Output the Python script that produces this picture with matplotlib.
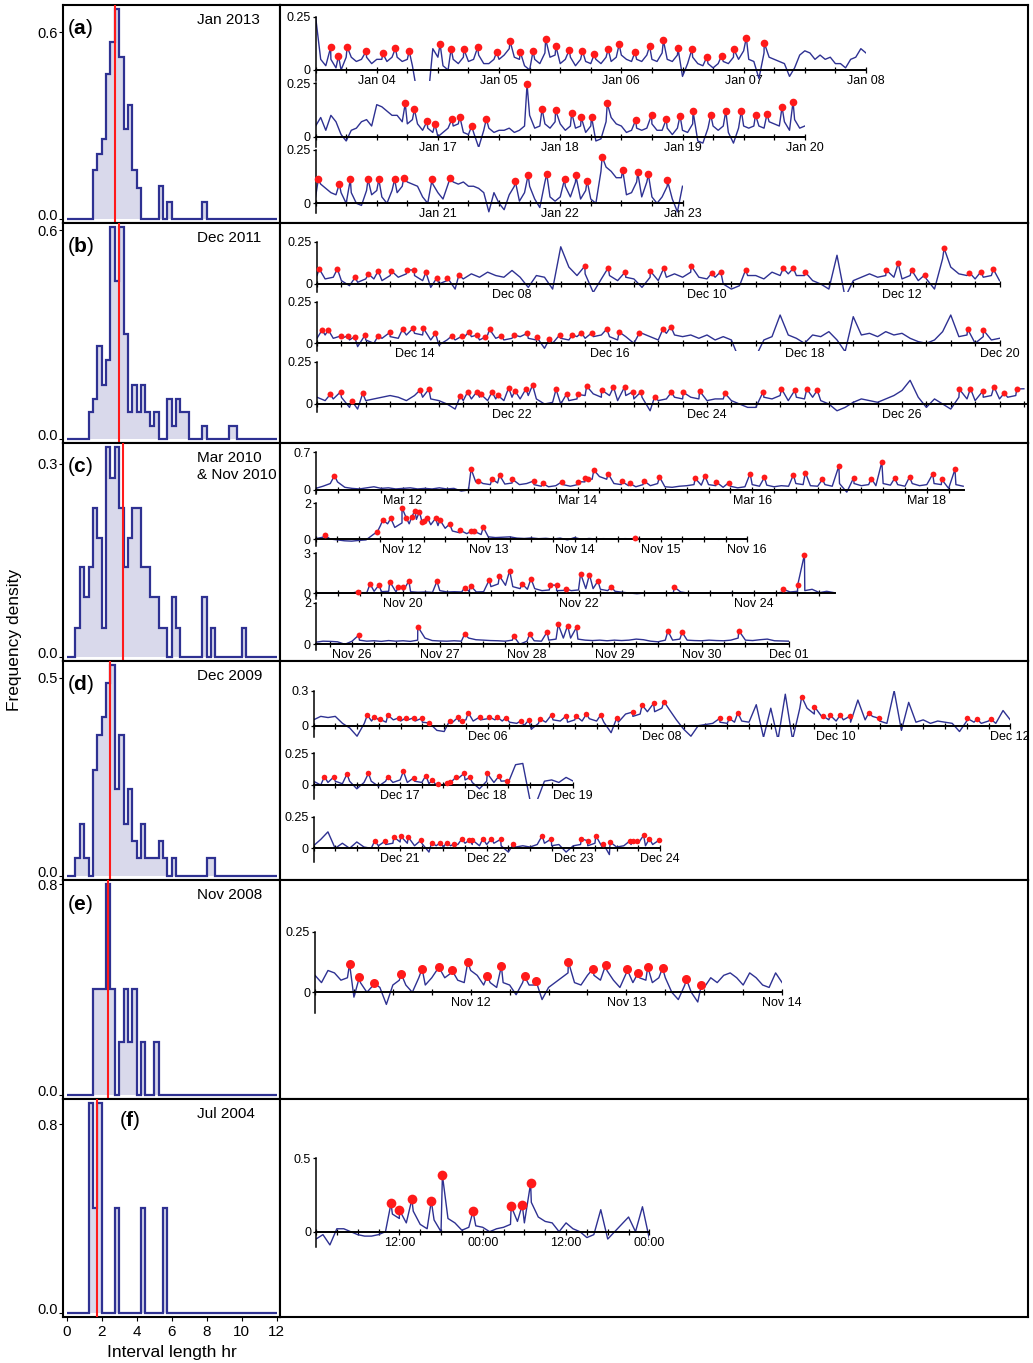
import numpy as np
import matplotlib
matplotlib.use('Agg')
import matplotlib.pyplot as plt
from matplotlib.transforms import ScaledTranslation

plt.rcParams['font.family'] = ['Liberation Sans', 'DejaVu Sans']
plt.rcParams['mathtext.fontset'] = 'custom'
plt.rcParams['mathtext.rm'] = 'Liberation Sans'
plt.rcParams['mathtext.bf'] = 'Liberation Sans:bold'

NAVY = '#2e3192'
FILL = '#d9d9eb'
RED = '#ff1a1a'

# ---------------- histograms (bin width 0.25 hr) ----------------
bin_w = 0.25
hist_letters = ['a', 'b', 'c', 'd', 'e', 'f']
hist_titles = ['Jan 2013', 'Dec 2011', 'Mar 2010\n& Nov 2010', 'Dec 2009', 'Nov 2008', 'Jul 2004']
hist_start = [1.5, 1.25, 0.5, 0.5, 1.5, 1.25]
hist_a = [0.158, 0.208, 0.258, 0.467, 0.570, 0.674, 0.52, 0.29, 0.365, 0.158, 0.10,
          0, 0, 0, 0, 0.104, 0, 0.055, 0, 0, 0, 0, 0, 0, 0, 0.055]
hist_b = [0.077, 0.115, 0.266, 0.154, 0.228, 0.609, 0.454, 0.609, 0.303, 0.077, 0.154,
          0.077, 0.154, 0.077, 0.038, 0.077, 0, 0, 0.115, 0.038, 0.115, 0.077, 0.077,
          0, 0, 0, 0.038, 0, 0, 0, 0, 0, 0.038, 0.038]
hist_c = [0.0445, 0.139, 0.093, 0.139, 0.232, 0.184, 0.0445, 0.326, 0.278, 0.326, 0.232,
          0.139, 0.184, 0.232, 0.232, 0.139, 0.139, 0.093, 0.093, 0.0445, 0.0445, 0,
          0.093, 0.0445, 0, 0, 0, 0, 0, 0.093, 0, 0.0445, 0, 0, 0, 0, 0, 0, 0.0445]
hist_d = [0.045, 0.131, 0.045, 0, 0.267, 0.356, 0.40, 0.487, 0.532, 0.22, 0.356, 0.131,
          0.22, 0.089, 0.045, 0.131, 0.045, 0.045, 0.045, 0.089, 0.045, 0, 0.045,
          0, 0, 0, 0, 0, 0, 0, 0.045, 0.045]
hist_e = [0.4, 0.4, 0.4, 0.8, 0.4, 0, 0.2, 0.4, 0.2, 0.4, 0, 0.2, 0, 0, 0.2]
hist_f = [0.889, 0.444, 0.889, 0, 0, 0, 0.444, 0, 0, 0, 0, 0, 0.444, 0, 0, 0, 0, 0.444]
hist_heights = [hist_a, hist_b, hist_c, hist_d, hist_e, hist_f]
medians = [2.76, 2.99, 3.24, 2.5, 2.38, 1.71]
hist_yticks = [0.6, 0.6, 0.3, 0.5, 0.8, 0.8]

# ---------------- time series strips ----------------
# (a) Jan 2013, hourly values
a1_v = [0.25, 0.05, 0.02, 0.05, 0.01, 0.0, 0.06, 0.06, 0.04, 0.05,
        0.06, 0.03, 0.05, 0.05, 0.04, 0.06, 0.06, 0.04, 0.05, 0.02,
        -0.12, -0.15, -0.15, 0.1, 0.06, 0.02, 0.0, 0.05, 0.03, 0.06,
        0.04, 0.05, 0.07, 0.03, 0.03, 0.05, 0.05, 0.07, 0.1, 0.06,
        0.05, 0.02, 0.0, 0.05, 0.03, 0.08, 0.06, 0.07, 0.03, 0.05,
        0.06, 0.02, 0.05, 0.04, 0.03, 0.05, 0.03, 0.06, 0.04, 0.06,
        0.07, 0.05, 0.04, 0.05, 0.04, 0.07, 0.05, 0.04, 0.08, 0.05,
        0.04, 0.07, -0.03, 0.03, 0.06, 0.03, 0.02, 0.03, 0.01, 0.03,
        0.04, 0.03, 0.06, 0.05, 0.09, 0.05, 0.04, -0.04, 0.08, 0.06,
        0.05, 0.04, 0.03, -0.03, 0.01, 0.07, 0.09, 0.08, 0.05, 0.07,
        0.05, 0.06, 0.03, 0.03, 0.01, 0.05, 0.06, 0.1, 0.08]
a1_pk_t = [3.623, 3.687, 3.758, 3.914, 4.049, 4.153, 4.265, 4.518, 4.608, 4.712, 4.825,
           4.980, 5.090, 5.174, 5.278, 5.381, 5.465, 5.574, 5.682, 5.778, 5.892, 5.982,
           6.111, 6.231, 6.344, 6.463, 6.577, 6.700, 6.819, 6.919, 7.022, 7.168]
a1_pk_v = [0.106, 0.066, 0.109, 0.089, 0.078, 0.102, 0.089, 0.122, 0.1, 0.098, 0.106,
           0.083, 0.136, 0.084, 0.089, 0.145, 0.112, 0.094, 0.089, 0.073, 0.098, 0.12,
           0.083, 0.112, 0.139, 0.102, 0.097, 0.062, 0.066, 0.098, 0.152, 0.128]

a2_v = [0.05, 0.09, 0.03, 0.1, 0.07, 0.01, -0.02, 0.03, 0.04, 0.07,
        0.08, 0.05, 0.15, 0.14, 0.12, 0.1, 0.1, 0.07, 0.06, 0.08,
        0.06, 0.03, 0.04, 0.02, 0.0, 0.02, 0.04, 0.05, 0.06, 0.02,
        0.01, 0.02, -0.05, 0.03, 0.04, 0.02, 0.03, 0.03, 0.04, 0.02,
        0.03, 0.05, 0.1, 0.04, 0.05, 0.06, 0.04, 0.07, 0.06, 0.03,
        0.05, 0.04, 0.05, 0.02, 0.05, -0.02, -0.01, 0.07, 0.09, 0.06,
        0.05, 0.02, 0.03, 0.04, 0.03, 0.04, 0.06, 0.03, 0.03, 0.04,
        0.01, 0.04, 0.03, 0.02, 0.06, -0.02, -0.03, 0.04, 0.05, 0.03,
        0.05, 0.02, -0.03, 0.04, 0.05, 0.04, 0.05, 0.05, 0.04, 0.07,
        0.06, 0.05, 0.07, 0.03, 0.08, 0.04, 0.05]
a2_pk_t = [16.733, 16.808, 16.911, 16.976, 17.115, 17.179, 17.276, 17.396, 17.729, 17.852,
           17.962, 18.094, 18.172, 18.256, 18.385, 18.617, 18.747, 18.867, 18.980, 19.086,
           19.231, 19.354, 19.481, 19.597, 19.691, 19.814, 19.904]
a2_pk_v = [0.156, 0.128, 0.072, 0.058, 0.083, 0.094, 0.05, 0.083, 0.245, 0.13,
           0.125, 0.112, 0.09, 0.094, 0.156, 0.078, 0.102, 0.081, 0.098, 0.12,
           0.102, 0.12, 0.122, 0.102, 0.106, 0.139, 0.164]

a3_v = [0.03, 0.09, 0.07, 0.05, 0.04, 0.05, 0.0, 0.05, 0.0, -0.01,
        0.06, 0.04, 0.06, 0.03, 0.0, 0.06, 0.05, 0.08, 0.1, 0.09,
        0.08, 0.03, 0.0, 0.09, 0.05, 0.02, 0.09, 0.1, 0.09, 0.1,
        0.08, 0.08, 0.07, 0.05, -0.04, 0.05, 0.0, -0.03, 0.04, 0.08,
        0.01, 0.05, 0.08, 0.02, -0.02, 0.1, 0.03, 0.01, 0.03, 0.08,
        0.03, 0.1, 0.02, 0.06, 0.02, 0.0, 0.15, 0.17, 0.15, 0.12,
        0.12, 0.04, 0.05, 0.1, 0.03, 0.1, 0.03, 0.0, 0.03, 0.08,
        0.02, -0.04, 0.08]
a3_pk_t = [20.022, 20.194, 20.284, 20.429, 20.517, 20.646, 20.72, 20.953, 21.099, 21.632,
           21.738, 21.890, 22.036, 22.127, 22.220, 22.343, 22.511, 22.634, 22.721, 22.876]
a3_pk_v = [0.112, 0.091, 0.112, 0.112, 0.112, 0.112, 0.117, 0.114, 0.117, 0.106,
           0.133, 0.137, 0.114, 0.133, 0.106, 0.219, 0.156, 0.145, 0.136, 0.109]

# (b) Dec 2011, 2-hourly values
b1_v = [0.05, 0.03, 0.04, 0.02, -0.01, 0.01, 0.03, 0.03, 0.02, 0.05,
        0.04, 0.06, 0.05, 0.02, -0.02, 0.0, 0.02, -0.03, 0.03, 0.06,
        0.04, 0.07, 0.05, 0.04, 0.08, 0.04, -0.02, 0.05, 0.04, -0.03,
        0.22, 0.1, 0.05, 0.06, -0.05, 0.03, 0.05, 0.02, 0.04, 0.03,
        -0.02, 0.04, 0.02, 0.04, 0.06, 0.04, 0.07, 0.04, 0.03, 0.04,
        0.0, -0.03, -0.01, 0.05, 0.05, 0.03, 0.07, 0.05, 0.06, 0.05,
        0.05, 0.02, 0.0, -0.03, 0.17, -0.08, 0.02, 0.04, 0.06, 0.04,
        0.05, 0.04, 0.03, 0.05, 0.02, 0.03, -0.03, 0.15, 0.1, 0.06,
        0.05, 0.03, 0.04, 0.05, 0.02]
b1_pk_t = [6.023, 6.209, 6.391, 6.528, 6.627, 6.764, 6.921, 6.999, 7.117, 7.230, 7.338,
           7.455, 8.747, 8.987, 9.164, 9.418, 9.556, 9.836, 10.047, 10.141, 10.396,
           10.783, 10.886, 11.009, 11.838, 11.961, 12.098, 12.231, 12.432, 12.692,
           12.810, 12.937]
b1_pk_v = [0.089, 0.089, 0.039, 0.059, 0.077, 0.077, 0.083, 0.083, 0.069, 0.037, 0.037,
           0.053, 0.106, 0.096, 0.073, 0.077, 0.093, 0.108, 0.063, 0.073, 0.083,
           0.093, 0.093, 0.069, 0.083, 0.122, 0.083, 0.053, 0.211, 0.067,
           0.073, 0.087]

b2_v = [0.03, 0.05, 0.03, 0.03, 0.02, -0.02, 0.02, 0.0, 0.03, 0.04,
        0.03, 0.05, 0.06, 0.05, 0.02, -0.01, 0.02, 0.02, 0.03, 0.04,
        0.02, 0.05, 0.03, 0.02, 0.03, 0.04, 0.03, 0.02, -0.03, 0.0,
        0.03, 0.02, 0.04, 0.03, 0.04, 0.05, 0.04, 0.02, 0.04, 0.0,
        0.06, 0.04, 0.02, 0.06, 0.05, 0.04, 0.05, 0.03, 0.05, 0.02,
        0.04, 0.02, -0.1, np.nan, -0.08, 0.02, 0.04, 0.17, 0.05, 0.03,
        0.0, 0.05, 0.04, 0.07, 0.02, -0.05, 0.16, 0.05, 0.06, 0.04,
        0.07, 0.05, 0.06, 0.03, 0.01, 0.0, 0.02, 0.07, 0.17, 0.04,
        0.05, 0.0, 0.04, 0.02, 0.03]
b2_pk_t = [13.052, 13.116, 13.244, 13.313, 13.386, 13.494, 13.627, 13.749, 13.877, 13.985,
           14.092, 14.215, 14.383, 14.490, 14.559, 14.642, 14.721, 14.770, 14.892, 15.021,
           15.158, 15.255, 15.384, 15.491, 15.618, 15.712, 15.821, 15.972, 16.099, 16.306,
           16.547, 16.630, 19.673, 19.834]
b2_pk_v = [0.08, 0.08, 0.044, 0.044, 0.04, 0.05, 0.044, 0.066, 0.084, 0.09,
           0.09, 0.06, 0.044, 0.044, 0.07, 0.05, 0.036, 0.084, 0.044, 0.05,
           0.06, 0.036, 0.026, 0.052, 0.05, 0.064, 0.064, 0.086, 0.068, 0.06,
           0.084, 0.1, 0.086, 0.08]

b3_v = [0.04, 0.02, 0.03, 0.04, -0.02, -0.03, 0.02, 0.03, 0.04, 0.05,
        0.04, 0.02, 0.05, 0.04, 0.03, 0.02, 0.0, -0.03, 0.02, 0.03,
        0.04, 0.02, 0.03, 0.02, 0.04, 0.03, 0.05, 0.03, 0.0, 0.01,
        0.0, 0.02, 0.03, 0.05, 0.06, 0.04, 0.05, 0.02, 0.05, 0.03,
        0.04, -0.04, 0.02, 0.03, 0.04, 0.03, 0.04, 0.03, 0.02, 0.03,
        0.03, 0.02, 0.0, -0.02, -0.02, 0.04, 0.03, 0.05, 0.02, 0.04,
        0.03, 0.04, 0.02, 0.0, -0.04, -0.02, 0.01, 0.03, 0.02, 0.01,
        0.03, 0.05, 0.08, 0.14, 0.04, -0.02, 0.03, 0.0, -0.03, 0.04,
        0.03, 0.02, 0.04, 0.05, 0.03, 0.04, 0.05, 0.09]
b3_pk_t = [20.136, 20.244, 20.357, 20.469, 21.058, 21.147, 21.471, 21.545, 21.638, 21.682,
           21.795, 21.853, 21.966, 22.030, 22.143, 22.211, 22.452, 22.560, 22.673, 22.766,
           22.918, 23.041, 23.154, 23.242, 23.325, 23.463, 23.635, 23.757, 23.924, 24.185,
           24.577, 24.763, 24.901, 25.024, 25.131, 26.589, 26.702, 26.830, 26.943, 27.050,
           27.177]
b3_pk_v = [0.057, 0.073, 0.018, 0.063, 0.083, 0.087, 0.049, 0.071, 0.071, 0.057,
           0.071, 0.053, 0.096, 0.079, 0.089, 0.112, 0.087, 0.059, 0.057, 0.106,
           0.083, 0.1, 0.1, 0.073, 0.073, 0.043, 0.069, 0.069, 0.077, 0.063,
           0.073, 0.091, 0.081, 0.089, 0.081, 0.087, 0.091, 0.077, 0.102, 0.065,
           0.089]

# (c) Mar 2010 & Nov 2010, 2-hourly values
c1_v = [0.03, 0.07, 0.12, 0.15, 0.05, 0.03, 0.02, 0.04, 0.06, 0.03,
        0.04, 0.02, 0.03, 0.04, 0.02, 0.03, 0.02, 0.04, 0.02, 0.03,
        -0.02, 0.0, 0.15, 0.12, 0.1, 0.13, 0.11, 0.13, 0.1, 0.12,
        0.1, 0.07, 0.06, 0.08, 0.1, 0.07, 0.1, 0.15, 0.2, 0.25,
        0.2, 0.12, 0.1, 0.08, 0.06, 0.1, 0.08, 0.12, 0.06, 0.05,
        0.07, 0.08, 0.1, 0.09, 0.1, 0.08, 0.05, 0.07, 0.04, 0.06,
        0.1, 0.07, 0.09, 0.06, 0.08, 0.07, 0.12, 0.1, 0.08, 0.07,
        0.1, 0.07, 0.12, -0.04, 0.12, 0.08, 0.1, 0.08, 0.12, 0.09,
        0.1, 0.07, 0.12, 0.08, 0.1, 0.12, 0.1, 0.03, 0.1, 0.07]
c1_pk_t = [11.215, 12.780, 12.861, 13.021, 13.107, 13.250, 13.496, 13.598, 13.823, 14.007,
           14.084, 14.119, 14.186, 14.349, 14.503, 14.596, 14.758, 14.938, 15.347, 15.459,
           15.588, 15.731, 15.976, 16.140, 16.472, 16.609, 16.804, 16.993, 17.163, 17.366,
           17.485, 17.632, 17.802, 18.068, 18.170, 18.323]
c1_pk_v = [0.266, 0.39, 0.173, 0.204, 0.273, 0.204, 0.167, 0.124, 0.155, 0.155,
           0.217, 0.204, 0.372, 0.304, 0.161, 0.124, 0.173, 0.242, 0.217, 0.26,
           0.149, 0.136, 0.304, 0.235, 0.279, 0.322, 0.198, 0.446, 0.229, 0.211,
           0.52, 0.217, 0.242, 0.297, 0.198, 0.384]

c2_v = [0.02, 0.1, 0.0, -0.05, -0.1, -0.12, -0.08, -0.05, 0.25, 0.75,
        0.85, 0.65, 0.9, 0.85, 1.1, 0.9, 0.8, 0.75, 0.6, 0.45,
        0.35, 0.3, 0.3, 0.25, 0.12, 0.08, 0.1, 0.12, 0.05, 0.03,
        0.06, 0.02, 0.04, 0.0, 0.05, -0.05, 0.08, -0.02, 0.03, 0.0,
        0.02, 0.01, 0.0, 0.02, 0.01, 0.02, 0.0, -0.02, 0.0, 0.01,
        -0.01, 0.0, -0.02, 0.0, -0.01, 0.0, -0.02, -0.01, 0.0, -0.02,
        -0.01]
c2_pk_t = [11.103, 11.715, 11.777, 11.870, 12.0, 12.051, 12.114, 12.150, 12.202, 12.233,
           12.254, 12.295, 12.389, 12.440, 12.553, 12.668, 12.803, 12.839, 12.942, 14.703]
c2_pk_v = [0.224, 0.411, 1.065, 1.159, 1.757, 1.159, 1.252, 1.589, 1.533, 0.935,
           1.009, 1.196, 1.159, 1.065, 0.841, 0.505, 0.43, 0.43, 0.654, 0.06]

c3_v = [0.0, 0.02, 0.0, 0.03, 0.0, 0.02, 0.05, 0.05, 0.15, 0.12,
        0.15, 0.1, 0.2, 0.12, 0.08, 0.1, 0.07, 0.2, 0.1, 0.12,
        0.1, 0.15, 0.1, 0.12, 0.5, 0.7, 0.6, 0.5, 0.35, 0.3,
        0.35, 0.2, 0.25, 0.2, 0.22, 0.2, 0.25, 0.35, 0.35, 0.3,
        0.2, 0.15, 0.08, 0.02, -0.03, 0.02, 0.0, 0.03, 0.0, 0.05,
        0.1, 0.02, 0.04, 0.0, 0.05, 0.02, 0.0, 0.06, 0.0, 0.03,
        0.05, 0.01, 0.03, 0.0, 0.1, 0.1, 0.15, 0.2, 0.3, 0.05,
        0.15, 0.05]
c3_pk_t = [19.483, 19.621, 19.723, 19.845, 19.942, 19.998, 20.064, 20.384, 20.700, 20.772,
           20.981, 21.097, 21.214, 21.357, 21.458, 21.677, 21.749, 21.861, 22.024, 22.125,
           22.222, 22.375, 23.092, 24.335, 24.503, 24.579]
c3_pk_v = [0.125, 0.7, 0.625, 0.875, 0.45, 0.475, 0.925, 0.9, 0.425, 0.55,
           1.0, 1.3, 1.7, 0.7, 1.1, 0.625, 0.6, 0.325, 1.475, 1.4,
           0.925, 0.475, 0.475, 0.3, 0.65, 2.9]

c4_v = [0.1, 0.15, 0.14, 0.12, 0.0, 0.15, 0.2, 0.15, 0.17, 0.14,
        0.18, 0.15, 0.17, 0.14, 0.2, 0.3, 0.18, 0.16, 0.15, 0.17,
        0.15, 0.3, 0.22, 0.2, 0.18, 0.17, 0.15, 0.2, 0.0, 0.15,
        0.17, 0.15, 0.2, 0.25, 0.3, 0.3, 0.25, 0.2, 0.18, 0.2,
        0.17, 0.2, 0.18, 0.2, 0.25, 0.22, 0.15, 0.12, 0.2, 0.2,
        0.25, 0.2, 0.18, 0.17, 0.2, 0.18, 0.17, 0.2, 0.3, 0.2,
        0.18, 0.22, 0.25, 0.17, 0.16, 0.15]
c4_pk_t = [26.077, 26.751, 27.286, 27.847, 28.031, 28.230, 28.358, 28.465, 28.567, 29.613,
           29.776, 30.424]
c4_pk_v = [0.448, 0.848, 0.48, 0.4, 0.48, 0.59, 0.96, 0.9, 0.816, 0.64, 0.576, 0.656]

# (d) Dec 2009, 2-hourly values
d1_v = [0.05, 0.08, 0.07, 0.08, 0.02, -0.02, -0.09, 0.02, 0.04, 0.05,
        0.03, 0.05, 0.04, 0.05, 0.04, 0.03, 0.02, -0.04, -0.05, 0.02,
        0.04, 0.05, 0.04, 0.05, 0.06, 0.05, 0.04, 0.03, 0.02, 0.0,
        -0.03, 0.02, 0.03, 0.05, 0.04, 0.03, 0.05, 0.04, 0.06, 0.04,
        0.03, -0.06, 0.03, 0.1, 0.08, 0.1, 0.12, 0.12, 0.15, 0.14,
        0.05, -0.03, -0.09, 0.0, 0.01, 0.02, 0.03, 0.02, 0.03, 0.04,
        0.03, 0.18, -0.1, 0.15, -0.12, 0.27, -0.12, 0.15, 0.15, 0.1,
        0.08, 0.05, 0.04, 0.05, 0.03, 0.22, 0.05, 0.08, 0.04, 0.02,
        0.3, -0.04, 0.2, 0.03, 0.05, 0.02, 0.04, 0.03, 0.02, -0.05,
        0.04, 0.03, 0.02, 0.04, 0.02, 0.13, 0.05]
d1_pk_t = [4.618, 4.699, 4.766, 4.853, 4.984, 5.066, 5.153, 5.241, 5.329, 5.563, 5.662,
           5.701, 5.777, 5.914, 6.013, 6.111, 6.209, 6.384, 6.472, 6.598, 6.734, 6.904,
           7.013, 7.134, 7.297, 7.483, 7.664, 7.773, 7.904, 8.024, 8.664, 8.774, 8.872,
           9.605, 9.752, 9.851, 9.933, 10.048, 10.162, 10.376, 10.496, 11.507, 11.617,
           11.776]
d1_pk_v = [0.091, 0.077, 0.054, 0.091, 0.069, 0.069, 0.069, 0.063, 0.023, 0.043, 0.074,
           0.043, 0.111, 0.077, 0.077, 0.074, 0.069, 0.043, 0.049, 0.06, 0.094, 0.086,
           0.083, 0.1, 0.091, 0.069, 0.117, 0.177, 0.191, 0.206, 0.063, 0.063, 0.111,
           0.249, 0.163, 0.083, 0.089, 0.091, 0.083, 0.111, 0.063, 0.063, 0.057,
           0.057]

d2_v = [0.03, 0.0, 0.02, 0.03, 0.01, 0.03, -0.03, 0.02, 0.03, -0.01,
        0.03, 0.02, 0.04, 0.02, 0.03, 0.02, 0.01, 0.0, 0.0, 0.02,
        0.05, 0.04, 0.02, -0.03, 0.03, 0.02, 0.03, 0.02, 0.16, 0.17,
        -0.12, -0.12, 0.03, 0.04, 0.02, 0.06, 0.03]
d2_pk_t = [16.127, 16.238, 16.387, 16.635, 16.857, 17.038, 17.160, 17.298, 17.371, 17.436,
           17.536, 17.575, 17.647, 17.740, 17.807, 18.006, 18.143, 18.238]
d2_pk_v = [0.066, 0.066, 0.087, 0.092, 0.066, 0.108, 0.058, 0.074, 0.039, 0.008,
           0.018, 0.021, 0.063, 0.092, 0.06, 0.092, 0.071, 0.034]

d3_v = [0.02, 0.07, 0.13, 0.0, 0.04, 0.0, 0.05, 0.01, 0.0, 0.02,
        0.03, 0.04, 0.05, 0.04, 0.02, 0.04, -0.03, 0.02, 0.01, 0.02,
        0.03, 0.04, 0.03, 0.02, 0.03, 0.04, 0.02, -0.03, 0.01, 0.02,
        0.01, 0.03, 0.04, 0.02, 0.03, -0.03, 0.02, 0.03, 0.02, 0.04,
        0.01, -0.05, 0.01, 0.02, 0.03, 0.04, 0.02, 0.03, 0.06]
d3_pk_t = [20.707, 20.829, 20.928, 21.006, 21.094, 21.243, 21.365, 21.464, 21.536, 21.619,
           21.713, 21.801, 21.834, 21.956, 22.055, 22.161, 22.309, 22.641, 22.746, 23.094,
           23.166, 23.260, 23.348, 23.425, 23.652, 23.685, 23.740, 23.812, 23.879, 23.994]
d3_pk_v = [0.058, 0.058, 0.089, 0.097, 0.089, 0.066, 0.045, 0.045, 0.045, 0.034,
           0.074, 0.066, 0.066, 0.076, 0.076, 0.071, 0.034, 0.1, 0.074, 0.074,
           0.06, 0.1, 0.034, 0.05, 0.058, 0.058, 0.058, 0.103, 0.076, 0.066]

# (e) Nov 2008, hourly values
e1_v = [0.07, 0.04, 0.09, 0.08, 0.05, 0.06, -0.02, 0.04, 0.0, 0.03,
        0.02, -0.05, 0.03, 0.05, 0.03, 0.0, 0.06, 0.03, 0.06, 0.1,
        0.06, 0.08, 0.05, 0.04, 0.09, 0.07, 0.03, 0.04, 0.02, 0.04,
        0.03, -0.01, 0.04, 0.03, 0.03, -0.03, 0.02, 0.04, 0.06, 0.08,
        0.04, 0.03, 0.07, 0.07, 0.05, 0.09, 0.05, 0.02, 0.08, 0.04,
        0.06, 0.05, 0.04, 0.06, 0.06, 0.0, -0.03, 0.03, 0.0, -0.04,
        0.02, 0.06, 0.04, 0.07, 0.08, 0.06, 0.03, 0.08, 0.06, 0.03,
        0.02, 0.08, 0.04]
e1_pk_t = [11.222, 11.285, 11.377, 11.553, 11.688, 11.794, 11.877, 11.981, 12.107, 12.197,
           12.346, 12.420, 12.627, 12.785, 12.866, 13.002, 13.074, 13.137, 13.232, 13.385,
           13.482]
e1_pk_v = [0.117, 0.062, 0.039, 0.077, 0.097, 0.105, 0.094, 0.124, 0.068, 0.108,
           0.066, 0.046, 0.127, 0.097, 0.111, 0.098, 0.078, 0.105, 0.1, 0.055,
           0.032]

# (f) Jul 2004, hourly values (x in hours)
f1_v = [-0.05, -0.02, -0.09, 0.02, 0.02, 0.0, -0.02, -0.03, -0.03, -0.02,
        0.0, 0.12, 0.09, 0.06, 0.14, 0.05, 0.02, 0.08, 0.0, 0.09,
        0.06, 0.01, 0.03, 0.04, 0.03, 0.0, 0.02, 0.03, 0.05, 0.07,
        0.06, 0.2, 0.1, 0.07, 0.06, 0.0, 0.06, 0.02, 0.0, -0.04,
        -0.02, 0.15, -0.05, 0.0, 0.05, 0.1, 0.0, 0.17, -0.05]
f1_pk_t = [10.8, 12.0, 13.8, 16.6, 18.2, 22.6, 28.1, 29.7, 30.9]
f1_pk_v = [0.193, 0.148, 0.22, 0.209, 0.384, 0.139, 0.173, 0.182, 0.33]

strips = [
    dict(row=0, v=a1_v, pt=a1_pk_t, pv=a1_pk_v, t0=3.5, t1=8.0, step=1 / 24, ytop=0.25, ylab='0.25',
         ticks=[4, 5, 6, 7, 8], labels=['Jan 04', 'Jan 05', 'Jan 06', 'Jan 07', 'Jan 08'], minor=0.25, ms=5.5),
    dict(row=0, v=a2_v, pt=a2_pk_t, pv=a2_pk_v, t0=16.0, t1=20.0, step=1 / 24, ytop=0.25, ylab='0.25',
         ticks=[17, 18, 19, 20], labels=['Jan 17', 'Jan 18', 'Jan 19', 'Jan 20'], minor=0.25, ms=5.5),
    dict(row=0, v=a3_v, pt=a3_pk_t, pv=a3_pk_v, t0=20.0, t1=23.0, step=1 / 24, ytop=0.25, ylab='0.25',
         ticks=[21, 22, 23], labels=['Jan 21', 'Jan 22', 'Jan 23'], minor=0.25, ms=5.5),
    dict(row=1, v=b1_v, pt=b1_pk_t, pv=b1_pk_v, t0=6.0, t1=13.0, step=1 / 12, ytop=0.25, ylab='0.25',
         ticks=[8, 10, 12], labels=['Dec 08', 'Dec 10', 'Dec 12'], minor=0.25, ms=4.3),
    dict(row=1, v=b2_v, pt=b2_pk_t, pv=b2_pk_v, t0=13.0, t1=20.0, step=1 / 12, ytop=0.25, ylab='0.25',
         ticks=[14, 16, 18, 20], labels=['Dec 14', 'Dec 16', 'Dec 18', 'Dec 20'], minor=0.25, ms=4.3),
    dict(row=1, v=b3_v, pt=b3_pk_t, pv=b3_pk_v, t0=20.0, t1=27.27, step=1 / 12, ytop=0.25, ylab='0.25',
         ticks=[22, 24, 26], labels=['Dec 22', 'Dec 24', 'Dec 26'], minor=0.25, ms=4.3),
    dict(row=2, v=c1_v, pt=c1_pk_t, pv=c1_pk_v, t0=11.0, t1=18.43, step=1 / 12, ytop=0.7, ylab='0.7',
         ticks=[12, 14, 16, 18], labels=['Mar 12', 'Mar 14', 'Mar 16', 'Mar 18'], minor=0.25, ms=4.2),
    dict(row=2, v=c2_v, pt=c2_pk_t, pv=c2_pk_v, t0=11.0, t1=16.0, step=1 / 12, ytop=2, ylab='2',
         ticks=[12, 13, 14, 15, 16], labels=['Nov 12', 'Nov 13', 'Nov 14', 'Nov 15', 'Nov 16'], minor=0.25, ms=4.2),
    dict(row=2, v=c3_v, pt=c3_pk_t, pv=c3_pk_v, t0=19.0, t1=24.93, step=1 / 12, ytop=3, ylab='3',
         ticks=[20, 22, 24], labels=['Nov 20', 'Nov 22', 'Nov 24'], minor=0.25, ms=4.2),
    dict(row=2, v=c4_v, pt=c4_pk_t, pv=c4_pk_v, t0=25.583, t1=31.0, step=1 / 12, ytop=2, ylab='2',
         ticks=[26, 27, 28, 29, 30, 31], labels=['Nov 26', 'Nov 27', 'Nov 28', 'Nov 29', 'Nov 30', 'Dec 01'],
         minor=0.25, ms=4.2),
    dict(row=3, v=d1_v, pt=d1_pk_t, pv=d1_pk_v, t0=4.0, t1=12.0, step=1 / 12, ytop=0.3, ylab='0.3',
         ticks=[6, 8, 10, 12], labels=['Dec 06', 'Dec 08', 'Dec 10', 'Dec 12'], minor=0.25, ms=4.0),
    dict(row=3, v=d2_v, pt=d2_pk_t, pv=d2_pk_v, t0=16.0, t1=19.0, step=1 / 12, ytop=0.25, ylab='0.25',
         ticks=[17, 18, 19], labels=['Dec 17', 'Dec 18', 'Dec 19'], minor=0.25, ms=4.0),
    dict(row=3, v=d3_v, pt=d3_pk_t, pv=d3_pk_v, t0=20.0, t1=24.0, step=1 / 12, ytop=0.25, ylab='0.25',
         ticks=[21, 22, 23, 24], labels=['Dec 21', 'Dec 22', 'Dec 23', 'Dec 24'], minor=0.25, ms=4.0),
    dict(row=4, v=e1_v, pt=e1_pk_t, pv=e1_pk_v, t0=11.0, t1=14.0, step=1 / 24, ytop=0.25, ylab='0.25',
         ticks=[12, 13, 14], labels=['Nov 12', 'Nov 13', 'Nov 14'], minor=0.25, ms=6.5),
    dict(row=5, v=f1_v, pt=f1_pk_t, pv=f1_pk_v, t0=0.0, t1=48.0, step=1.0, ytop=0.5, ylab='0.5',
         ticks=[12, 24, 36, 48], labels=['12:00', '00:00', '12:00', '00:00'], minor=3.0, ms=7.0),
]

# pixel layout of each strip: x of y-axis, px per x-unit, y px of top tick, of zero, of axis bottom
strip_layout = [
    (315.6, 122.3, 16.7, 70.0, 80.7),
    (315.6, 122.3, 83.3, 136.7, 146.7),
    (315.6, 122.3, 150.0, 203.3, 213.3),
    (317.0, 97.5, 241.7, 284.0, 291.7),
    (317.0, 97.5, 301.7, 343.3, 351.0),
    (317.0, 97.5, 361.7, 404.0, 412.0),
    (315.7, 87.3, 452.3, 490.0, 494.0),
    (315.7, 86.3, 503.3, 539.0, 546.0),
    (315.7, 87.6, 553.3, 593.3, 599.3),
    (315.7, 87.4, 602.7, 644.3, 650.0),
    (313.5, 87.1, 690.7, 725.7, 736.7),
    (313.5, 86.6, 753.3, 785.0, 799.0),
    (313.5, 86.6, 816.7, 848.3, 861.7),
    (315.0, 155.7, 931.7, 992.3, 1013.3),
    (316.0, 166.7 / 24, 1158.3, 1231.7, 1246.7),
]

W, H = 1033, 1363
row_edges = [5, 223, 443, 661, 880, 1099, 1317]
HX0, HX1, RX1 = 63, 280, 1028

fig = plt.figure(figsize=(W / 100, H / 100), dpi=100)
lift = ScaledTranslation(0, 4 / 100, fig.dpi_scale_trans)


def px_axes(x0, y0, x1, y1):
    return fig.add_axes([x0 / W, 1 - y1 / H, (x1 - x0) / W, (y1 - y0) / H])


def ftext(x, y, s, **kw):
    fig.text(x / W, 1 - y / H, s, **kw)


edges = np.arange(0, 12 + bin_w / 2, bin_w)
for k in range(6):
    top, bot = row_edges[k], row_edges[k + 1]
    ax = px_axes(HX0, top, HX1, bot)
    h = np.zeros(len(edges) - 1)
    i0 = int(round(hist_start[k] / bin_w))
    h[i0:i0 + len(hist_heights[k])] = hist_heights[k]
    ax.stairs(h, edges, fill=True, color=FILL, baseline=0)
    ax.stairs(h, edges, color=NAVY, lw=1.6, baseline=0)
    ax.axvline(medians[k], color=RED, lw=1.5, zorder=3)
    hm = max(hist_heights[k])
    ax.set_ylim(-0.02 * hm, 1.02 * hm)
    ax.set_xlim(-0.21, 12.19)
    ax.set_yticks([0, hist_yticks[k]])
    ax.set_yticklabels(['0.0', '%.1f' % hist_yticks[k]])
    ax.tick_params(axis='y', labelsize=10.5, length=3, pad=1)
    # the 0.0 label sits a little above its tick, as in the original
    zl = ax.get_yticklabels()[0]
    zl.set_transform(zl.get_transform() + lift)
    if k == 5:
        ax.set_xticks(range(0, 13, 2))
        ax.tick_params(axis='x', labelsize=11, length=3, pad=3)
    else:
        ax.set_xticks([])
    for s in ax.spines.values():
        s.set_linewidth(1.5)
    rax = px_axes(HX1, top, RX1, bot)
    rax.set_xticks([])
    rax.set_yticks([])
    for s in rax.spines.values():
        s.set_linewidth(1.5)
    lab = r'($\mathbf{%s}$)' % hist_letters[k]
    if k == 5:
        ftext(119, top + 22, lab, fontsize=15, va='center', ha='left')
    else:
        ftext(67, top + 24, lab, fontsize=15, va='center', ha='left')
    ftext(197, top + 8, hist_titles[k], fontsize=11, va='top', ha='left', linespacing=1.25)

ftext(15, 640, 'Frequency density', rotation=90, fontsize=12.5, va='center', ha='center')
ftext(172, 1352, 'Interval length hr', fontsize=12.5, va='center', ha='center')

for st, (x0, ppx, ytop_px, zero_px, ybot_px) in zip(strips, strip_layout):
    x1 = x0 + (st['t1'] - st['t0']) * ppx
    ax = px_axes(x0, ytop_px, x1, ybot_px)
    ax.patch.set_alpha(0)
    ymax = st['ytop']
    ymin = -ymax * (ybot_px - zero_px) / (zero_px - ytop_px)
    t = st['t0'] + np.arange(len(st['v'])) * st['step']
    tt = np.concatenate([t, st['pt']])
    vv = np.concatenate([st['v'], st['pv']])
    o = np.argsort(tt, kind='stable')
    ax.plot(tt[o], vv[o], color=NAVY, lw=1.0, zorder=2)
    ax.plot(st['pt'], st['pv'], 'o', color=RED, ms=st['ms'], mec='none', zorder=3, clip_on=False)
    ax.set_xlim(st['t0'], st['t1'])
    ax.set_ylim(ymin, ymax)
    for side in ['top', 'right']:
        ax.spines[side].set_visible(False)
    ax.spines['bottom'].set_position(('data', 0))
    ax.spines['bottom'].set_linewidth(1.4)
    ax.spines['left'].set_linewidth(1.1)
    ax.set_yticks([0, ymax])
    ax.set_yticklabels(['0', st['ylab']])
    ax.set_xticks(st['ticks'])
    ax.set_xticklabels(st['labels'])
    first = np.ceil(st['t0'] / st['minor'] - 1e-6) * st['minor']
    ax.set_xticks(np.arange(first, st['t1'] + 1e-6, st['minor']), minor=True)
    ax.tick_params(axis='x', which='both', direction='inout', length=5, width=0.9, labelsize=9, pad=1)
    ax.tick_params(axis='y', length=2.5, width=0.9, labelsize=9, pad=1)

fig.savefig('out.png', dpi=100)
